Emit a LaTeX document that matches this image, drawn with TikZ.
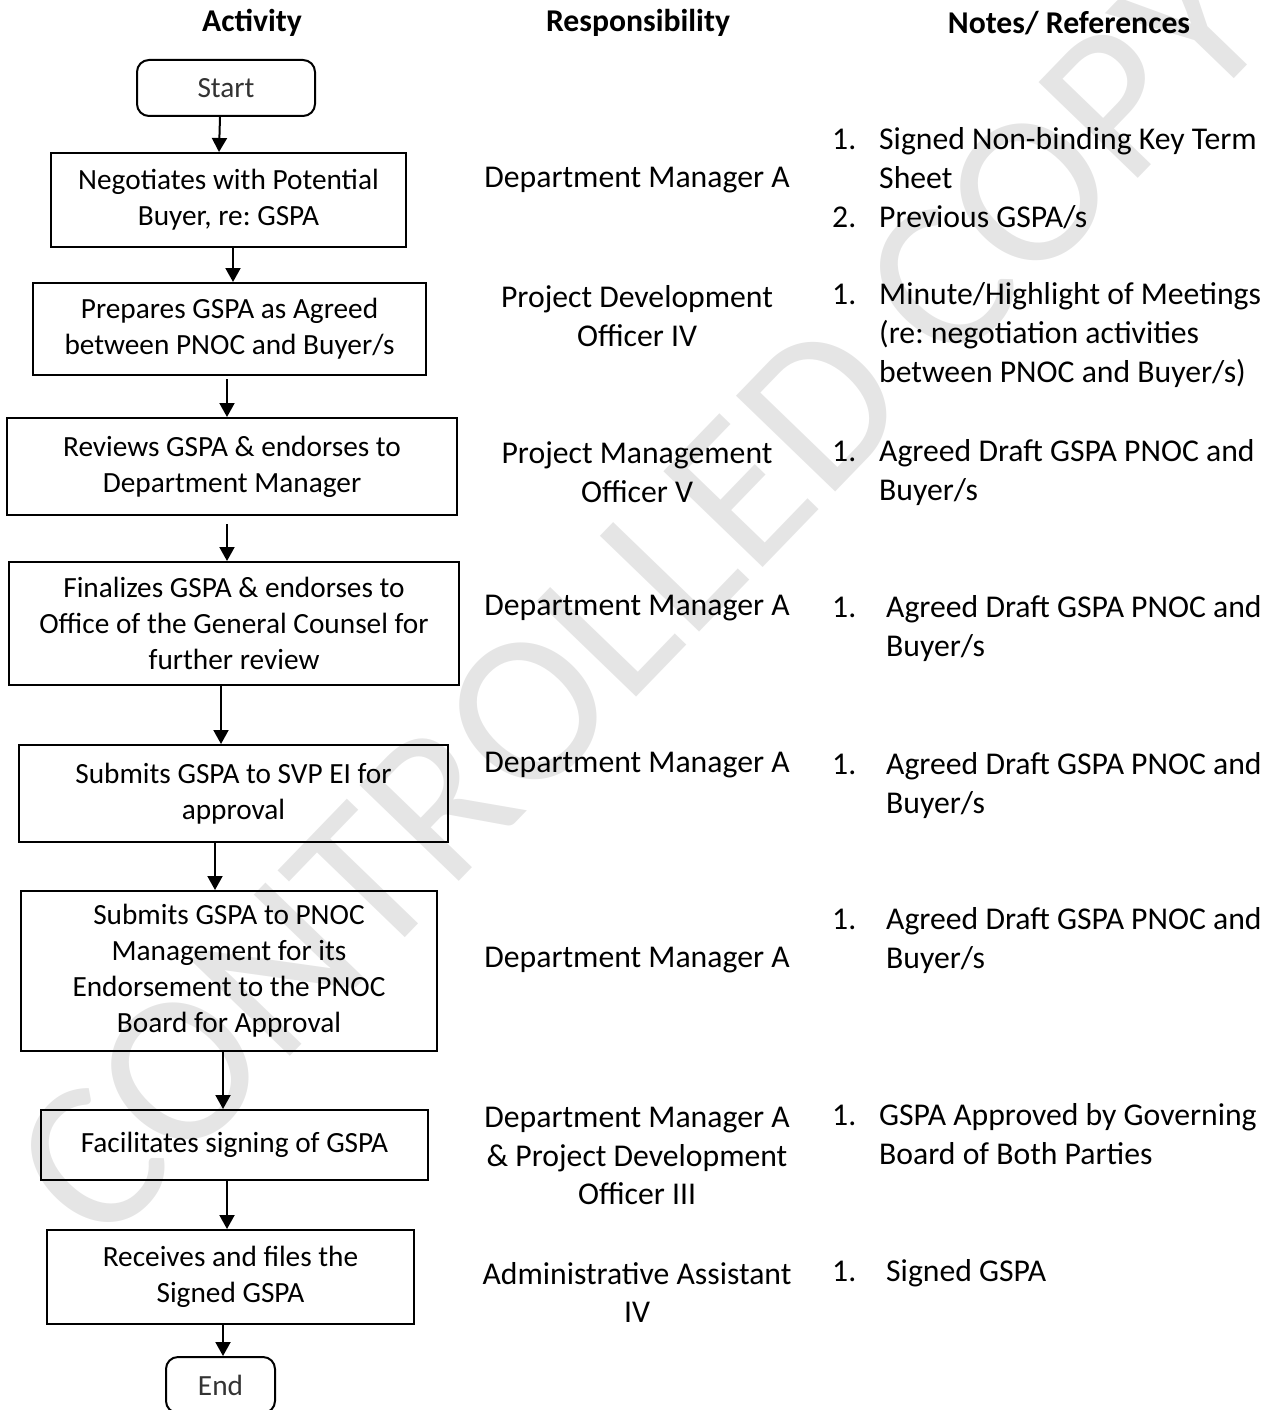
\documentclass[tikz,border=0pt]{standalone}
\usepackage{fontspec}
\setmainfont{Carlito}
\usetikzlibrary{arrows.meta,positioning}
\frenchspacing

\begin{document}
\begin{tikzpicture}[
        x=1pt, y=-1pt,
        stepbox/.style={draw, rectangle, line width=2pt, align=center, inner sep=0pt,
            font=\fontsize{29.3}{36}\selectfont},
        terminal/.style={draw, rectangle, rounded corners=12pt, line width=2pt,
            minimum height=56pt, inner sep=0pt, text=black!80,
            font=\fontsize{29.3}{36}\selectfont},
        flow/.style={line width=2pt, -{Triangle[length=14pt,width=15pt]}},
        header/.style={inner sep=0pt, font=\fontsize{31.7}{38.8}\selectfont\bfseries},
        resp/.style={align=center, inner sep=0pt, font=\fontsize{31.7}{38.8}\selectfont},
        note/.style={anchor=west, inner sep=0pt, font=\fontsize{31.7}{38.8}\selectfont},
        watermark/.style={text=black!10, rotate=46, inner sep=0pt, font=\fontsize{215}{250}\selectfont}
    ]
    \useasboundingbox (0,0) rectangle (1276,1410);
    \clip (0,0) rectangle (1276,1410);

    % watermark behind everything
    \node[watermark] (wm) at (640,595) {CONTROLLED COPY};

    % column headers
    \node[header] (hact) at (252,23) {Activity};
    \node[header] (hresp) at (638,23) {Responsibility};
    \node[header] (hnotes) at (1069,23) {Notes/ References};

    % activity flow
    \node[terminal, minimum width=178pt] (start) at (226,88) {Start};
    \node[stepbox, minimum width=355pt, minimum height=94pt] (negotiate) at (228.5,200)
        {Negotiates with Potential\\Buyer, re: GSPA};
    \node[stepbox, minimum width=393pt, minimum height=92pt] (prepare) at (229.5,329)
        {Prepares GSPA as Agreed\\between PNOC and Buyer/s};
    \node[stepbox, minimum width=450pt, minimum height=97pt] (review) at (232,466.5)
        {Reviews GSPA \& endorses to\\Department Manager};
    \node[stepbox, minimum width=450pt, minimum height=123pt] (finalize) at (234,623.5)
        {Finalizes GSPA \& endorses to\\Office of the General Counsel for\\further review};
    \node[stepbox, minimum width=429pt, minimum height=97pt] (svp) at (233.5,793.5)
        {Submits GSPA to SVP EI for\\approval};
    \node[stepbox, minimum width=416pt, minimum height=160pt] (board) at (229,971)
        {Submits GSPA to PNOC\\Management for its\\Endorsement to the PNOC\\Board for Approval};
    \node[stepbox, minimum width=387pt, minimum height=70pt] (signing) at (234.5,1145)
        {Facilitates signing of GSPA};
    \node[stepbox, minimum width=367pt, minimum height=94pt] (files) at (230.5,1277)
        {Receives and files the\\Signed GSPA};
    \node[terminal, minimum width=109pt] (end) at (220.5,1385) {End};

    \draw[flow] (start.south -| 220,0) -- (negotiate.north -| 219,0);
    \draw[flow] (negotiate.south -| 233,0) -- (prepare.north -| 233,0);
    \draw[flow, shorten <=3pt] (prepare.south -| 227,0) -- (review.north -| 227,0);
    \draw[flow, shorten <=8pt] (review.south -| 227,0) -- (finalize.north -| 227,0);
    \draw[flow] (finalize.south -| 221,0) -- (svp.north -| 221,0);
    \draw[flow] (svp.south -| 215,0) -- (board.north -| 215,0);
    \draw[flow] (board.south -| 223,0) -- (signing.north -| 223,0);
    \draw[flow] (signing.south -| 227,0) -- (files.north -| 227,0);
    \draw[flow] (files.south -| 223,0) -- (end.north -| 223,0);

    % responsibility column
    \node[resp] (r1) at (637,180) {Department Manager A};
    \node[resp] (r2) at (637,316) {Project Development\\Officer IV};
    \node[resp] (r3) at (637,472.5) {Project Management\\Officer V};
    \node[resp] (r4) at (637,608) {Department Manager A};
    \node[resp] (r5) at (637,765) {Department Manager A};
    \node[resp] (r6) at (637,960) {Department Manager A};
    \node[resp] (r7) at (637,1156) {Department Manager A\\\& Project Development\\Officer III};
    \node[resp] (r8) at (637,1292.5) {Administrative Assistant\\IV};

    % notes / references column
    \node[note] (n1) at (832,181) {\begin{tabular}{@{}p{47pt}@{}l@{}}
        1.&Signed Non-binding Key Term\\&Sheet\\2.&Previous GSPA/s\end{tabular}};
    \node[note] (n2) at (832,336) {\begin{tabular}{@{}p{47pt}@{}l@{}}
        1.&Minute/Highlight of Meetings\\&(re: negotiation activities\\&between PNOC and Buyer/s)\end{tabular}};
    \node[note] (n3) at (832,473.5) {\begin{tabular}{@{}p{47pt}@{}l@{}}
        1.&Agreed Draft GSPA PNOC and\\&Buyer/s\end{tabular}};
    \node[note] (n4) at (832,629) {\begin{tabular}{@{}p{54pt}@{}l@{}}
        1.&Agreed Draft GSPA PNOC and\\&Buyer/s\end{tabular}};
    \node[note] (n5) at (832,786) {\begin{tabular}{@{}p{54pt}@{}l@{}}
        1.&Agreed Draft GSPA PNOC and\\&Buyer/s\end{tabular}};
    \node[note] (n6) at (832,941) {\begin{tabular}{@{}p{54pt}@{}l@{}}
        1.&Agreed Draft GSPA PNOC and\\&Buyer/s\end{tabular}};
    \node[note] (n7) at (832,1137) {\begin{tabular}{@{}p{47pt}@{}l@{}}
        1.&GSPA Approved by Governing\\&Board of Both Parties\end{tabular}};
    \node[note] (n8) at (832,1274) {\begin{tabular}{@{}p{54pt}@{}l@{}}
        1.&Signed GSPA\end{tabular}};
\end{tikzpicture}
\end{document}
